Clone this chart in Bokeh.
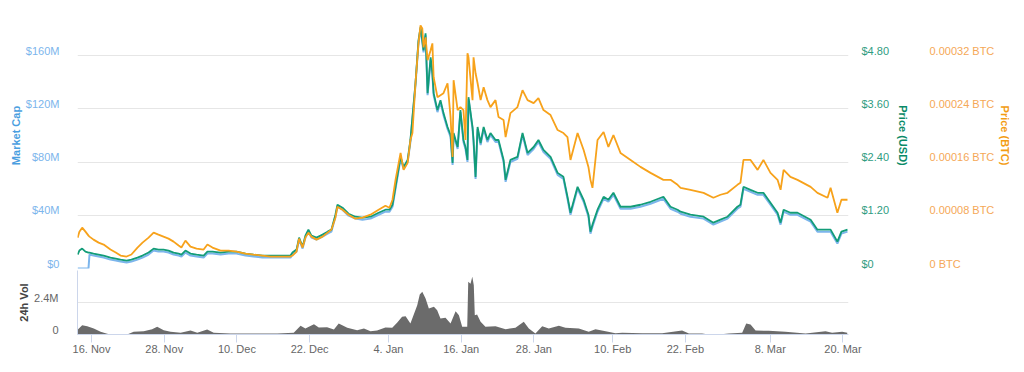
import pandas as pd
from bokeh.plotting import figure
from bokeh.models import Range1d, LinearAxis, FixedTicker, ColumnDataSource
from bokeh.layouts import column
from bokeh.embed import file_html
from bokeh.resources import INLINE

# ---------------- data ----------------
dates = [
    "2017-11-13 17:00", "2017-11-14 00:00", "2017-11-14 11:00", "2017-11-15 00:00", "2017-11-15 12:00",
    "2017-11-15 16:00", "2017-11-16 08:00", "2017-11-17 04:00", "2017-11-18 00:00", "2017-11-19 03:00",
    "2017-11-20 00:00", "2017-11-20 19:00", "2017-11-21 19:00", "2017-11-22 14:00", "2017-11-23 14:00",
    "2017-11-24 10:00", "2017-11-25 10:00", "2017-11-26 06:00", "2017-11-27 01:00", "2017-11-27 21:00",
    "2017-11-28 17:00", "2017-11-29 13:00", "2017-11-30 09:00", "2017-11-30 20:00", "2017-12-01 12:00",
    "2017-12-02 08:00", "2017-12-03 08:00", "2017-12-04 12:00", "2017-12-05 03:00", "2017-12-05 23:00",
    "2017-12-07 07:00", "2017-12-08 15:00", "2017-12-09 22:00", "2017-12-11 10:00", "2017-12-12 18:00",
    "2017-12-14 05:00", "2017-12-15 13:00", "2017-12-17 05:00", "2017-12-18 20:00", "2017-12-19 04:00",
    "2017-12-19 20:00", "2017-12-20 06:00", "2017-12-20 20:00", "2017-12-21 07:00", "2017-12-21 19:00",
    "2017-12-22 07:00", "2017-12-23 03:00", "2017-12-24 03:00", "2017-12-24 23:00", "2017-12-25 14:00",
    "2017-12-26 06:00", "2017-12-26 14:00", "2017-12-27 10:00", "2017-12-28 10:00", "2017-12-29 13:00",
    "2017-12-30 17:00", "2018-01-01 01:00", "2018-01-02 09:00", "2018-01-03 12:00", "2018-01-04 04:00",
    "2018-01-04 16:00", "2018-01-05 04:00", "2018-01-06 00:00", "2018-01-06 12:00", "2018-01-07 04:00",
    "2018-01-07 15:00", "2018-01-07 23:00", "2018-01-08 11:00", "2018-01-08 23:00", "2018-01-09 07:00",
    "2018-01-09 14:00", "2018-01-09 19:00", "2018-01-10 03:00", "2018-01-10 11:00", "2018-01-10 23:00",
    "2018-01-11 06:00", "2018-01-11 11:00", "2018-01-12 02:00", "2018-01-12 14:00", "2018-01-13 02:00",
    "2018-01-13 18:00", "2018-01-14 06:00", "2018-01-14 14:00", "2018-01-14 18:00", "2018-01-15 10:00",
    "2018-01-15 21:00", "2018-01-16 09:00", "2018-01-16 17:00", "2018-01-17 01:00", "2018-01-17 05:00",
    "2018-01-17 21:00", "2018-01-18 01:00", "2018-01-18 09:00", "2018-01-18 17:00", "2018-01-19 05:00",
    "2018-01-19 17:00", "2018-01-20 08:00", "2018-01-20 20:00", "2018-01-21 16:00", "2018-01-22 04:00",
    "2018-01-23 00:00", "2018-01-23 08:00", "2018-01-24 03:00", "2018-01-25 07:00", "2018-01-26 03:00",
    "2018-01-26 23:00", "2018-01-27 23:00", "2018-01-28 18:00", "2018-01-29 14:00", "2018-01-30 18:00",
    "2018-01-31 22:00", "2018-02-01 21:00", "2018-02-02 13:00", "2018-02-03 01:00", "2018-02-04 05:00",
    "2018-02-05 05:00", "2018-02-06 00:00", "2018-02-06 08:00", "2018-02-06 16:00", "2018-02-07 12:00",
    "2018-02-08 12:00", "2018-02-09 07:00", "2018-02-10 03:00", "2018-02-11 07:00", "2018-02-12 23:00",
    "2018-02-14 14:00", "2018-02-16 06:00", "2018-02-18 09:00", "2018-02-19 13:00", "2018-02-20 17:00",
    "2018-02-21 05:00", "2018-02-22 20:00", "2018-02-25 00:00", "2018-02-26 15:00", "2018-02-27 19:00",
    "2018-02-28 23:00", "2018-03-02 14:00", "2018-03-03 02:00", "2018-03-03 14:00", "2018-03-04 18:00",
    "2018-03-05 22:00", "2018-03-06 21:00", "2018-03-08 01:00", "2018-03-09 05:00", "2018-03-09 17:00",
    "2018-03-10 05:00", "2018-03-11 08:00", "2018-03-12 12:00", "2018-03-14 16:00", "2018-03-15 19:00",
    "2018-03-17 11:00", "2018-03-17 23:00", "2018-03-19 02:00", "2018-03-19 18:00", "2018-03-20 18:00",
]

price_usd = [
    0.315, 0.404, 0.449, 0.382, 0.360, 0.360, 0.337, 0.315, 0.292, 0.247,
    0.225, 0.202, 0.180, 0.202, 0.247, 0.292, 0.360, 0.449, 0.427, 0.427,
    0.404, 0.360, 0.337, 0.315, 0.404, 0.337, 0.315, 0.292, 0.382, 0.382,
    0.360, 0.382, 0.382, 0.337, 0.315, 0.292, 0.292, 0.292, 0.292, 0.360,
    0.427, 0.697, 0.494, 0.742, 0.876, 0.742, 0.697, 0.764, 0.831, 0.876,
    1.213, 1.438, 1.371, 1.236, 1.168, 1.146, 1.168, 1.258, 1.326, 1.326,
    1.438, 1.843, 2.517, 2.292, 2.449, 2.899, 3.415, 4.179, 5.146, 5.438,
    5.146, 4.921, 5.303, 3.955, 4.764, 4.404, 3.955, 3.573, 3.797, 3.505,
    3.191, 3.011, 2.382, 3.056, 2.741, 3.573, 2.899, 2.741, 2.449, 3.865,
    3.191, 2.899, 2.067, 3.191, 2.831, 3.191, 2.899, 3.056, 2.899, 2.899,
    2.449, 2.000, 2.449, 2.517, 3.056, 2.607, 2.741, 2.899, 2.674, 2.517,
    2.157, 2.067, 1.618, 1.258, 1.843, 1.550, 1.213, 0.831, 0.989, 1.326,
    1.618, 1.550, 1.708, 1.393, 1.393, 1.438, 1.505, 1.618, 1.393, 1.326,
    1.281, 1.213, 1.168, 1.034, 1.101, 1.168, 1.393, 1.438, 1.843, 1.775,
    1.708, 1.708, 1.483, 1.258, 1.034, 1.326, 1.258, 1.258, 1.101, 0.876,
    0.876, 0.876, 0.607, 0.831, 0.876,
]

price_btc = [
    0.0000464, 0.0000554, 0.0000614, 0.0000554, 0.0000494, 0.0000479, 0.0000434, 0.0000389, 0.0000360, 0.0000285,
    0.0000240, 0.0000195, 0.0000180, 0.0000210, 0.0000315, 0.0000389, 0.0000464, 0.0000539, 0.0000509, 0.0000479,
    0.0000449, 0.0000404, 0.0000345, 0.0000315, 0.0000419, 0.0000330, 0.0000300, 0.0000285, 0.0000360, 0.0000315,
    0.0000270, 0.0000270, 0.0000255, 0.0000225, 0.0000210, 0.0000195, 0.0000180, 0.0000180, 0.0000180, 0.0000195,
    0.0000255, 0.0000449, 0.0000315, 0.0000464, 0.0000539, 0.0000479, 0.0000434, 0.0000479, 0.0000539, 0.0000584,
    0.0000764, 0.0000929, 0.0000884, 0.0000809, 0.0000749, 0.0000764, 0.0000809, 0.0000884, 0.0000944, 0.0000914,
    0.0001034, 0.0001333, 0.0001738, 0.0001483, 0.0001588, 0.0001932, 0.0002037, 0.0002786, 0.0003385, 0.0003655,
    0.0003610, 0.0003326, 0.0003475, 0.0003131, 0.0003281, 0.0003385, 0.0002876, 0.0002577, 0.0002607, 0.0002636,
    0.0002786, 0.0002277, 0.0001678, 0.0002831, 0.0002382, 0.0002427, 0.0002382, 0.0001932, 0.0003236, 0.0003176,
    0.0002532, 0.0003176, 0.0002936, 0.0002786, 0.0002532, 0.0002726, 0.0002532, 0.0002427, 0.0002532, 0.0002277,
    0.0002232, 0.0001977, 0.0002337, 0.0002427, 0.0002681, 0.0002532, 0.0002487, 0.0002562, 0.0002382, 0.0002307,
    0.0002082, 0.0002037, 0.0001977, 0.0001633, 0.0002037, 0.0001783, 0.0001528, 0.0001333, 0.0001213, 0.0001932,
    0.0002052, 0.0001828, 0.0002007, 0.0001738, 0.0001633, 0.0001528, 0.0001438, 0.0001333, 0.0001333, 0.0001258,
    0.0001213, 0.0001183, 0.0001138, 0.0001064, 0.0001109, 0.0001138, 0.0001258, 0.0001288, 0.0001633, 0.0001633,
    0.0001483, 0.0001633, 0.0001438, 0.0001333, 0.0001183, 0.0001483, 0.0001378, 0.0001333, 0.0001228, 0.0001138,
    0.0001064, 0.0001213, 0.0000839, 0.0001034, 0.0001034,
]

market_cap_musd = [
    0.0, 0.0, 0.0, 0.0, 0.0, 10.5, 9.7, 9.0, 8.2, 6.7,
    6.0, 5.2, 4.5, 5.2, 6.7, 8.2, 10.5, 13.5, 12.7, 12.7,
    12.0, 10.5, 9.7, 9.0, 12.0, 9.7, 9.0, 8.2, 11.2, 11.2,
    10.5, 11.2, 11.2, 9.7, 9.0, 8.2, 8.2, 8.2, 8.2, 10.5,
    12.7, 21.7, 15.0, 23.2, 27.7, 23.2, 21.7, 24.0, 26.2, 27.7,
    39.0, 46.4, 44.2, 39.7, 37.5, 36.7, 37.5, 40.4, 42.7, 42.7,
    46.4, 59.9, 82.4, 74.9, 80.1, 95.1, 112.3, 137.8, 170.0, 179.8,
    170.0, 162.5, 175.3, 130.3, 157.3, 145.3, 130.3, 117.6, 125.1, 115.3,
    104.9, 98.9, 77.9, 100.4, 89.9, 117.6, 95.1, 89.9, 80.1, 127.3,
    104.9, 95.1, 67.4, 104.9, 92.9, 104.9, 95.1, 100.4, 95.1, 95.1,
    80.1, 65.2, 80.1, 82.4, 100.4, 85.4, 89.9, 95.1, 87.6, 82.4,
    70.4, 67.4, 52.4, 40.4, 59.9, 50.2, 39.0, 26.2, 31.5, 42.7,
    52.4, 50.2, 55.4, 44.9, 44.9, 46.4, 48.7, 52.4, 44.9, 42.7,
    41.2, 38.9, 37.5, 33.0, 35.2, 37.5, 44.9, 46.4, 59.9, 57.7,
    55.4, 55.4, 47.9, 40.4, 33.0, 42.7, 40.4, 40.4, 35.2, 27.7,
    27.7, 27.7, 18.7, 26.2, 27.7,
]

vol_dates = [
    "2017-11-13 15:00", "2017-11-14 11:00", "2017-11-15 07:00", "2017-11-16 09:00", "2017-11-17 12:00",
    "2017-11-18 14:00", "2017-11-19 03:00", "2017-11-21 21:00", "2017-11-22 23:00", "2017-11-24 15:00",
    "2017-11-26 00:00", "2017-11-26 20:00", "2017-11-27 22:00", "2017-11-29 01:00", "2017-11-30 17:00",
    "2017-12-02 08:00", "2017-12-03 11:00", "2017-12-05 02:00", "2017-12-06 04:00", "2017-12-08 23:00",
    "2017-12-11 03:00", "2017-12-16 15:00", "2017-12-19 09:00", "2017-12-20 12:00", "2017-12-21 07:00",
    "2017-12-22 17:00", "2017-12-23 12:00", "2017-12-24 21:00", "2017-12-26 00:00", "2017-12-26 19:00",
    "2017-12-28 05:00", "2017-12-29 20:00", "2017-12-30 23:00", "2018-01-01 01:00", "2018-01-02 03:00",
    "2018-01-03 12:00", "2018-01-04 15:00", "2018-01-05 11:00", "2018-01-06 06:00", "2018-01-06 20:00",
    "2018-01-07 15:00", "2018-01-08 18:00", "2018-01-09 04:00", "2018-01-09 14:00", "2018-01-10 03:00",
    "2018-01-10 16:00", "2018-01-11 12:00", "2018-01-12 01:00", "2018-01-12 14:00", "2018-01-13 10:00",
    "2018-01-14 06:00", "2018-01-15 02:00", "2018-01-15 15:00", "2018-01-16 04:00", "2018-01-17 00:00",
    "2018-01-17 04:00", "2018-01-17 13:00", "2018-01-17 20:00", "2018-01-18 02:00", "2018-01-18 06:00",
    "2018-01-18 15:00", "2018-01-19 05:00", "2018-01-20 00:00", "2018-01-21 16:00", "2018-01-23 08:00",
    "2018-01-24 23:00", "2018-01-26 08:00", "2018-01-27 04:00", "2018-01-28 06:00", "2018-01-29 09:00",
    "2018-01-30 11:00", "2018-02-01 03:00", "2018-02-02 05:00", "2018-02-04 10:00", "2018-02-06 01:00",
    "2018-02-07 04:00", "2018-02-08 20:00", "2018-02-10 11:00", "2018-02-11 14:00", "2018-02-14 21:00",
    "2018-02-18 04:00", "2018-02-21 11:00", "2018-02-22 14:00", "2018-02-24 18:00", "2018-02-25 21:00",
    "2018-02-27 12:00", "2018-03-01 04:00", "2018-03-03 09:00", "2018-03-04 01:00", "2018-03-04 18:00",
    "2018-03-05 14:00", "2018-03-07 18:00", "2018-03-10 12:00", "2018-03-13 20:00", "2018-03-17 03:00",
    "2018-03-18 05:00", "2018-03-19 21:00", "2018-03-20 17:00",
]

volume_musd = [
    0.325, 0.70, 0.625, 0.45, 0.20, 0.05, 0.0, 0.0, 0.20, 0.25,
    0.40, 0.575, 0.325, 0.20, 0.125, 0.30, 0.125, 0.375, 0.125, 0.075,
    0.075, 0.075, 0.125, 0.65, 0.45, 0.775, 0.525, 0.55, 0.375, 0.825,
    0.50, 0.325, 0.45, 0.25, 0.30, 0.525, 0.50, 0.90, 1.325, 1.375,
    0.825, 2.20, 3.00, 3.20, 2.70, 1.95, 2.075, 1.825, 1.20, 1.25,
    0.825, 1.75, 1.45, 0.575, 0.575, 3.95, 3.80, 4.325, 3.70, 1.45,
    1.50, 0.95, 0.575, 0.625, 0.40, 0.50, 0.95, 0.45, 0.075, 0.625,
    0.45, 0.65, 0.50, 0.45, 0.20, 0.40, 0.25, 0.10, 0.125, 0.10,
    0.10, 0.30, 0.075, 0.075, 0.0, 0.0, 0.075, 0.125, 0.825, 0.75,
    0.30, 0.275, 0.20, 0.075, 0.25, 0.125, 0.20, 0.125,
]

mc_ticks = [0, 40, 80, 120, 160, 200]
mc_tick_labels = ["$0", "$40M", "$80M", "$120M", "$160M", ""]
usd_ticks = [0, 1.2, 2.4, 3.6, 4.8]
usd_tick_labels = ["$0", "$1.20", "$2.40", "$3.60", "$4.80"]
btc_ticks = [0, 0.00008, 0.00016, 0.00024, 0.00032]
btc_tick_labels = ["0 BTC", "0.00008 BTC", "0.00016 BTC", "0.00024 BTC", "0.00032 BTC"]
vol_ticks = [0, 2.4, 4.8]
vol_tick_labels = ["0", "2.4M", ""]
date_ticks = ["2017-11-16", "2017-11-28", "2017-12-10", "2017-12-22", "2018-01-04", "2018-01-16",
              "2018-01-28", "2018-02-10", "2018-02-22", "2018-03-08", "2018-03-20"]
date_tick_labels = ["16. Nov", "28. Nov", "10. Dec", "22. Dec", "4. Jan", "16. Jan",
                    "28. Jan", "10. Feb", "22. Feb", "8. Mar", "20. Mar"]

# ---------------- styling ----------------
FONT = "Liberation Sans"
C_MC, C_MC_LBL, C_MC_TTL = "#7cb5ec", "#7cb5ec", "#4a9ee0"
C_USD, C_USD_LBL, C_USD_TTL = "#129c78", "#2f9c81", "#0a8a68"
C_BTC, C_BTC_LBL, C_BTC_TTL = "#f7a21b", "#f5a857", "#f39c12"
GRID = "#e6e6e6"
AXIS = "#ccd6eb"

MAIN_H = 266                 # plot-area height of the price panel (px)
MC_TOP = 200.0               # $M at the top of the price panel
USD_TOP = 6.0
BTC_TOP = 0.0004
VOL_H = 64
VOL_TOP = 4.8
LIFT = 5                     # tick labels sit 5px above their grid lines

src = ColumnDataSource(dict(t=pd.to_datetime(dates), usd=price_usd, btc=price_btc, mc=market_cap_musd))
vsrc = ColumnDataSource(dict(t=pd.to_datetime(vol_dates), vol=volume_musd))

xr = Range1d(start=pd.Timestamp("2017-11-13 16:30"), end=pd.Timestamp("2018-03-20 22:00"))

p = figure(frame_width=771, frame_height=MAIN_H, x_range=xr, y_range=Range1d(0, MC_TOP),
           x_axis_type="datetime", x_axis_location=None,
           output_backend="svg", toolbar_location=None,
           min_border_left=77, min_border_right=168, min_border_top=2, min_border_bottom=2)
p.outline_line_color = None
p.background_fill_color = "white"
p.border_fill_color = "white"
p.xgrid.visible = False
p.ygrid.grid_line_color = GRID
p.ygrid.ticker = FixedTicker(ticks=mc_ticks)
p.extra_y_ranges = {"usd": Range1d(0, USD_TOP), "btc": Range1d(0, BTC_TOP)}


def style_y(ax, ticks, labels, lift, lcolor, tcolor, title, lab_standoff, ttl_standoff):
    shifted = [t + lift for t in ticks]
    ax.ticker = FixedTicker(ticks=shifted)
    ax.major_label_overrides = dict(zip(shifted, labels))
    ax.axis_label = title
    ax.axis_line_color = None
    ax.major_tick_line_color = None
    ax.minor_tick_line_color = None
    ax.major_tick_out = 0
    ax.major_tick_in = 0
    ax.minor_tick_out = 0
    ax.major_label_standoff = lab_standoff
    ax.axis_label_standoff = ttl_standoff
    ax.major_label_text_font = FONT
    ax.major_label_text_font_size = "11px"
    ax.major_label_text_color = lcolor
    ax.axis_label_text_font = FONT
    ax.axis_label_text_font_size = "11px"
    ax.axis_label_text_font_style = "bold"
    ax.axis_label_text_color = tcolor


style_y(p.yaxis[0], mc_ticks[:-1], mc_tick_labels[:-1], LIFT * MC_TOP / MAIN_H,
        C_MC_LBL, C_MC_TTL, "Market Cap", 18, 1)
ax_usd = LinearAxis(y_range_name="usd")
style_y(ax_usd, usd_ticks, usd_tick_labels, LIFT * USD_TOP / MAIN_H,
        C_USD_LBL, C_USD_TTL, "Price (USD)", 13, 5)
ax_btc = LinearAxis(y_range_name="btc")
style_y(ax_btc, btc_ticks, btc_tick_labels, LIFT * BTC_TOP / MAIN_H,
        C_BTC_LBL, C_BTC_TTL, "Price (BTC)", 17, 2)
p.add_layout(ax_usd, "right")
p.add_layout(ax_btc, "right")

p.line("t", "mc", source=src, line_color=C_MC, line_width=2)
p.line("t", "usd", source=src, line_color=C_USD, line_width=1.8, y_range_name="usd")
p.line("t", "btc", source=src, line_color=C_BTC, line_width=1.8, y_range_name="btc")

# ---------------- volume panel ----------------
pv = figure(frame_width=771, frame_height=VOL_H, x_range=xr, y_range=Range1d(0, VOL_TOP),
            x_axis_type="datetime", output_backend="svg", toolbar_location=None,
            min_border_left=77, min_border_right=168, min_border_top=0, min_border_bottom=30)
pv.outline_line_color = None
pv.xgrid.visible = False
pv.ygrid.grid_line_color = GRID
pv.ygrid.ticker = FixedTicker(ticks=vol_ticks)
style_y(pv.yaxis[0], vol_ticks[:-1], vol_tick_labels[:-1], LIFT * VOL_TOP / VOL_H,
        "#666666", "#444444", "24h Vol", 19, 1)
pv.yaxis[0].axis_line_color = AXIS

tick_ms = [int(pd.Timestamp(d).value // 10**6) for d in date_ticks]
xa = pv.xaxis[0]
xa.ticker = FixedTicker(ticks=tick_ms)
xa.major_label_overrides = dict(zip(tick_ms, date_tick_labels))
xa.axis_line_color = AXIS
xa.major_tick_line_color = AXIS
xa.minor_tick_line_color = None
xa.major_tick_out = 8
xa.major_tick_in = 0
xa.major_label_standoff = 0
xa.major_label_text_font = FONT
xa.major_label_text_font_size = "11px"
xa.major_label_text_color = "#666666"

pv.varea(x="t", y1=0, y2="vol", source=vsrc, fill_color="#6b6b6b")

layout = column(p, pv)
open("out.html", "w").write(file_html(layout, INLINE))
